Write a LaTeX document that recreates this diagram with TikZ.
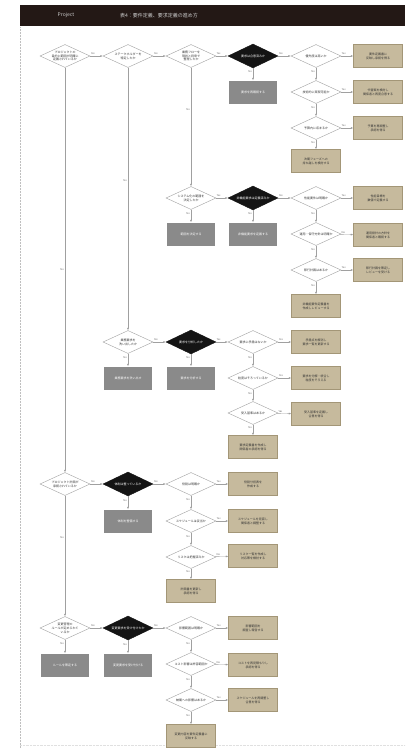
\documentclass[tikz,border=0pt]{standalone}
\usepackage{fontspec}
\newfontfamily\jp{Noto Sans CJK JP}
\usetikzlibrary{shapes.geometric,arrows.meta}
\definecolor{hdr}{HTML}{231815}
\definecolor{blk}{HTML}{141414}
\definecolor{tanfill}{HTML}{C6BA9D}
\definecolor{tanline}{HTML}{A39677}
\definecolor{grayfill}{HTML}{8A8A8A}
\definecolor{wire}{HTML}{A0A0A0}
\tikzset{
  dia/.style={diamond, draw=wire, fill=white, line width=0.4pt,
    minimum width=50pt, minimum height=23pt, inner sep=0pt},
  bdia/.style={diamond, draw=blk, fill=blk, line width=0.4pt,
    minimum width=50pt, minimum height=24pt, inner sep=0pt},
  dtext/.style={font=\jp\fontsize{3}{3.8}\selectfont, align=center,
    inner sep=0pt, text=black!80},
  btext/.style={dtext, text=white},
  tanbox/.style={rectangle, draw=tanline, fill=tanfill, line width=0.4pt,
    minimum width=49pt, minimum height=23pt, inner sep=1pt,
    font=\jp\fontsize{3}{3.8}\selectfont, align=center, text=black!80},
  graybox/.style={rectangle, fill=grayfill, minimum width=48pt,
    minimum height=23pt, inner sep=1pt,
    font=\jp\fontsize{3}{3.8}\selectfont, text=white},
  conn/.style={draw=wire, line width=0.4pt, -{Latex[length=2.5pt,width=2pt]}},
  lab/.style={font=\jp\fontsize{2.5}{3}\selectfont, text=black!60, inner sep=1pt},
  hdrtext/.style={font=\jp\fontsize{5}{6}\selectfont, text=white!80!black, inner sep=0pt},
}
% decision diamonds: shape node plus a centred text node
\newcommand\wdec[3]{\node[dia] (#1) at (#2) {};\node[dtext] (#1t) at (#1) {#3};}
\newcommand\bdec[3]{\node[bdia] (#1) at (#2) {};\node[btext] (#1t) at (#1) {#3};}
% connectors: "Yes" runs right, "No" runs down
\newcommand\yes[2]{\draw[conn] (#1) -- node[lab, above, pos=0.22] {Yes} (#2);}
\newcommand\no[3][0.3]{\draw[conn] (#2) -- node[lab, left, pos=#1] {No} (#3);}
\begin{document}
\begin{tikzpicture}[x=1pt, y=-1pt]
\useasboundingbox (0,0) rectangle (405,750);
\fill[white] (0,0) rectangle (405,750);

% header bar
\fill[hdr] (20,5) rectangle (405,26);
\node[hdrtext] (proj) at (66,15.5) {Project};
\node[hdrtext, anchor=west] (title) at (120,15.5) {表4：要件定義、要求定義の進め方};

% page guides
\draw[black!25, densely dotted, line width=0.5pt] (20,27) -- (20,748);
\draw[black!12, densely dotted, line width=0.4pt] (20,745) -- (405,745);

% ---------- block A ----------
\wdec{d1}{65,56}{プロジェクトの\\目的と範囲が明確に\\定義されているか}
\wdec{d2}{128,56}{ステークホルダーを\\特定したか}
\wdec{d3}{191,56}{業務フローを\\現状と将来で\\整理したか}
\bdec{d4}{253,56}{要求は合意済みか}
\wdec{d5}{316,56}{優先度は高いか}
\node[tanbox] (t1) at (378,56) {要件定義書に\\反映し承認を得る};
\node[graybox] (g1) at (253,92) {要求を再確認する};
\wdec{d6}{316,92}{技術的に実現可能か}
\node[tanbox] (t2) at (378,92) {代替案を検討し\\関係者と再度合意する};
\wdec{d7}{316,128}{予算内に収まるか}
\node[tanbox] (t3) at (378,128) {予算を再調整し\\承認を得る};
\node[tanbox] (t4) at (316,161) {次期フェーズへの\\持ち越しを検討する};

% ---------- block B ----------
\wdec{d8}{191,198}{システム化の範囲を\\決定したか}
\bdec{d9}{253,198}{非機能要求は定義済みか}
\wdec{d10}{316,198}{性能要件は明確か}
\node[tanbox] (t5) at (378,198) {性能目標を\\数値で定義する};
\node[graybox] (g2) at (191,234) {範囲を決定する};
\node[graybox] (g3) at (253,234) {非機能要求を定義する};
\wdec{d11}{316,234}{運用・保守方針は明確か}
\node[tanbox] (t6) at (378,235) {運用設計の方針を\\関係者と確認する};
\wdec{d12}{316,270}{移行計画はあるか}
\node[tanbox] (t7) at (378,270) {移行計画を策定し\\レビューを受ける};
\node[tanbox] (t8) at (316,306) {非機能要件定義書を\\作成しレビューする};

% ---------- block C ----------
\wdec{d13}{128,342}{業務要求を\\洗い出したか}
\bdec{d14}{191,342}{要求を分析したか}
\wdec{d15}{253,342}{要求に矛盾はないか}
\node[tanbox] (t9) at (316,342) {矛盾点を解消し\\要求一覧を更新する};
\node[graybox] (g4) at (128,378) {業務要求を洗い出す};
\node[graybox] (g5) at (191,378) {要求を分析する};
\wdec{d16}{253,378}{粒度はそろっているか}
\node[tanbox] (t10) at (316,378) {要求を分解・統合し\\粒度をそろえる};
\wdec{d17}{253,413}{受入基準はあるか}
\node[tanbox] (t11) at (316,414) {受入基準を定義し\\合意を得る};
\node[tanbox] (t12) at (253,447) {要求定義書を作成し\\関係者の承認を得る};

% ---------- block D ----------
\wdec{d18}{65,484}{プロジェクト計画が\\承認されているか}
\bdec{d19}{128,484}{体制は整っているか}
\wdec{d20}{191,484}{役割は明確か}
\node[tanbox] (t13) at (253,484) {役割分担表を\\作成する};
\node[graybox] (g6) at (128,521) {体制を整備する};
\wdec{d21}{191,521}{スケジュールは妥当か}
\node[tanbox] (t14) at (253,521) {スケジュールを見直し\\関係者と調整する};
\wdec{d22}{191,557}{リスクは把握済みか}
\node[tanbox] (t15) at (253,556) {リスク一覧を作成し\\対応策を検討する};
\node[tanbox] (t16) at (191,591) {計画書を更新し\\承認を得る};

% ---------- block E ----------
\wdec{d23}{65,628}{変更管理の\\ルールが定められて\\いるか}
\bdec{d24}{128,628}{変更要求を受け付けたか}
\wdec{d25}{191,628}{影響範囲は明確か}
\node[tanbox] (t17) at (253,628) {影響範囲を\\調査し報告する};
\node[graybox] (g7) at (65,665) {ルールを策定する};
\node[graybox] (g8) at (128,665) {変更要求を受け付ける};
\wdec{d26}{191,664}{コスト影響は許容範囲か}
\node[tanbox] (t18) at (253,665) {コストを再見積もりし\\承認を得る};
\wdec{d27}{191,700}{納期への影響はあるか}
\node[tanbox] (t19) at (253,700) {スケジュールを再調整し\\合意を得る};
\node[tanbox] (t20) at (191,736) {変更内容を要件定義書に\\反映する};

% ---------- connectors ----------
\yes{d1}{d2} \yes{d2}{d3} \yes{d3}{d4} \yes{d4}{d5} \yes{d5}{t1}
\no{d4}{g1} \no{d5}{d6} \yes{d6}{t2} \no{d6}{d7} \yes{d7}{t3} \no{d7}{t4}
\no[0.35]{d3}{d8} \no[0.43]{d2}{d13} \no[0.5]{d1}{d18}

\yes{d8}{d9} \no{d8}{g2} \yes{d9}{d10} \no{d9}{g3} \yes{d10}{t5}
\no{d10}{d11} \yes{d11}{t6} \no{d11}{d12} \yes{d12}{t7} \no{d12}{t8}

\yes{d13}{d14} \no{d13}{g4} \yes{d14}{d15} \no{d14}{g5} \yes{d15}{t9}
\no{d15}{d16} \yes{d16}{t10} \no{d16}{d17} \yes{d17}{t11} \no{d17}{t12}

\yes{d18}{d19} \no[0.35]{d18}{d23} \yes{d19}{d20} \no{d19}{g6} \yes{d20}{t13}
\no{d20}{d21} \yes{d21}{t14} \no{d21}{d22} \yes{d22}{t15} \no{d22}{t16}

\yes{d23}{d24} \no{d23}{g7} \yes{d24}{d25} \no{d24}{g8} \yes{d25}{t17}
\no{d25}{d26} \yes{d26}{t18} \no{d26}{d27} \yes{d27}{t19} \no{d27}{t20}
\end{tikzpicture}
\end{document}
